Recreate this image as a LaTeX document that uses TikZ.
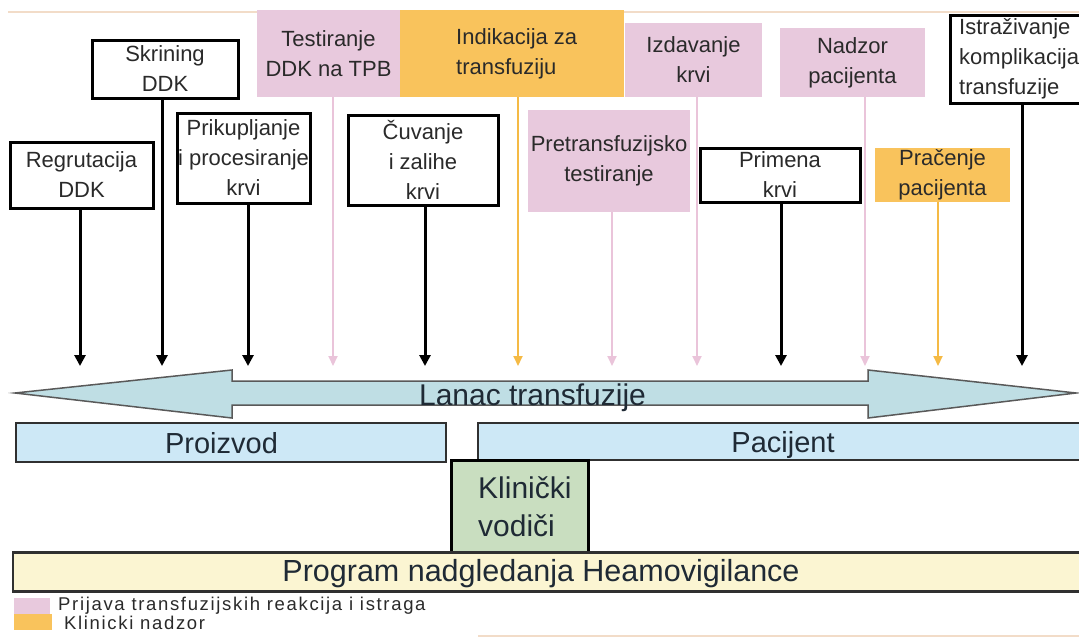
\documentclass[tikz,border=0pt]{standalone}
\usepackage{fontspec}
\setmainfont{Liberation Sans}
\usetikzlibrary{arrows.meta}
\definecolor{pinkc}{HTML}{E8C9DD}
\definecolor{pinkl}{HTML}{EAC4DA}
\definecolor{orc}{HTML}{F9C35C}
\definecolor{orl}{HTML}{F5BA45}
\definecolor{tealc}{HTML}{BFDEE4}
\definecolor{bluec}{HTML}{CDE8F6}
\definecolor{greenc}{HTML}{C9DEC0}
\definecolor{yelc}{HTML}{FBF5D2}
\definecolor{txt}{HTML}{2A2A2A}
\definecolor{bartxt}{HTML}{1F2A35}
\definecolor{edge}{HTML}{303030}
\definecolor{tanl}{HTML}{F2DCC8}
\tikzset{
  btext/.style={font=\fontsize{22}{30}\selectfont, text=txt, align=center, inner sep=0pt},
  blackbox/.style={btext, draw=black, line width=3pt, fill=white},
  pinkbox/.style={btext, fill=pinkc},
  orbox/.style={btext, fill=orc},
  bar/.style={draw=edge, line width=2.5pt, inner sep=0pt, text=bartxt},
  bigtext/.style={font=\fontsize{29}{31}\selectfont, text=bartxt, inner sep=0pt, anchor=base},
  legtext/.style={font=\fontsize{18.5}{19}\selectfont\addfontfeature{LetterSpace=9}, text=txt, anchor=base west, inner sep=0pt},
  blackarr/.style={draw=black, line width=3pt, -{Triangle[width=11pt,length=11pt]}},
  pinkarr/.style={draw=pinkl, line width=2pt, -{Triangle[width=9pt,length=10pt]}},
  orarr/.style={draw=orl, line width=2pt, -{Triangle[width=9pt,length=10pt]}},
}
\begin{document}
\begin{tikzpicture}[x=1pt,y=-1pt]
\useasboundingbox (0,0) rectangle (1079,637);
\clip (0,0) rectangle (1079,637);
\fill[white] (0,0) rectangle (1079,637);
\draw[tanl, line width=1.5pt] (8,12) -- (1079,12);
\draw[tanl, line width=1.5pt] (478,636) -- (1079,636);

% coloured boxes
\node[pinkbox, minimum width=143pt, minimum height=87pt] (test) at (328.5,53.5) {Testiranje\\DDK na TPB};
\node[orbox, minimum width=224pt, minimum height=87pt] (indik) at (512,53.5) {};
\node[btext, anchor=west, align=left] (indikt) at (456,54) {Indikacija za\\transfuziju};
\node[pinkbox, minimum width=162pt, minimum height=102pt] (pret) at (609,161) {Pretransfuzijsko\\testiranje};
\node[pinkbox, minimum width=137pt, minimum height=74pt] (izd) at (693.5,60) {Izdavanje\\krvi};
\node[pinkbox, minimum width=145pt, minimum height=69pt] (nadz) at (852.5,62.5) {Nadzor\\pacijenta};
\node[orbox, minimum width=135pt, minimum height=54pt] (prac) at (942.5,175) {Pra\v{c}enje\\pacijenta};

% black boxes
\node[blackbox, minimum width=143pt, minimum height=66pt] (regr) at (81.5,175) {Regrutacija\\DDK};
\node[blackbox, minimum width=146pt, minimum height=58pt] (skr) at (165,69) {Skrining\\DDK};
\node[blackbox, minimum width=133pt, minimum height=90pt] (prik) at (243.5,158) {Prikupljanje\\i procesiranje\\krvi};
\node[blackbox, minimum width=150pt, minimum height=90pt] (cuv) at (423,160) {\v{C}uvanje\\i zalihe\\krvi};
\node[blackbox, minimum width=160pt, minimum height=54pt] (prim) at (780,175) {Primena\\krvi};
\node[blackbox, minimum width=150pt, minimum height=88pt] (istr) at (1025,59) {};
\node[btext, anchor=west, align=left] (istrt) at (959,59) {Istra\v{z}ivanje\\komplikacija\\transfuzije};

% arrow tips
\foreach \n/\x in {1/80,2/162,3/248,4/333,5/425,6/518,7/612,8/697,9/781,10/865,11/938,12/1022}
  \coordinate (t\n) at (\x,366);

\draw[blackarr] (regr.south -| t1) -- (t1);
\draw[blackarr] (skr.south -| t2) -- (t2);
\draw[blackarr] (prik.south -| t3) -- (t3);
\draw[pinkarr] (test.south -| t4) -- (t4);
\draw[blackarr] (cuv.south -| t5) -- (t5);
\draw[orarr] (indik.south -| t6) -- (t6);
\draw[pinkarr] (pret.south -| t7) -- (t7);
\draw[pinkarr] (izd.south -| t8) -- (t8);
\draw[blackarr] (prim.south -| t9) -- (t9);
\draw[pinkarr] (nadz.south -| t10) -- (t10);
\draw[orarr] (prac.south -| t11) -- (t11);
\draw[blackarr] (istr.south -| t12) -- (t12);

% double arrow
\draw[fill=tealc, draw=edge!80, line width=1.5pt, line join=miter]
  (15,393) -- (232,370) -- (232,381) -- (868,381) -- (868,370) -- (1076,393)
  -- (868,418) -- (868,405) -- (232,405) -- (232,418) -- cycle;
\node[font=\fontsize{30}{32}\selectfont, text=bartxt, inner sep=0pt, anchor=base] (lanac) at (532.5,405) {Lanac transfuzije};

% bars
\node[bar, fill=bluec, minimum width=430pt, minimum height=39pt] (proiz) at (231,442.5) {};
\node[bigtext] (proizt) at (221.5,453) {Proizvod};
\node[bar, fill=bluec, minimum width=610pt, minimum height=37pt] (pac) at (783,441.5) {};
\node[bigtext] (pact) at (783,452) {Pacijent};
\node[bar, draw=black, line width=3pt, fill=greenc, minimum width=137pt, minimum height=92pt] (klin) at (519.5,506) {};
\node[font=\fontsize{30}{38}\selectfont, text=bartxt, align=left, anchor=west, inner sep=0pt] (klint) at (478,507) {Klini\v{c}ki\\vodi\v{c}i};
\node[bar, fill=yelc, minimum width=1080pt, minimum height=39pt] (prog) at (553,572) {};
\node[font=\fontsize{30.5}{32}\selectfont, text=bartxt, inner sep=0pt, anchor=base] (progt) at (541,581) {Program nadgledanja Heamovigilance};

% legend
\node[fill=pinkc, minimum width=36pt, minimum height=16pt, inner sep=0pt] (lg1) at (32,606) {};
\node[fill=orc, minimum width=38pt, minimum height=16pt, inner sep=0pt] (lg2) at (33,622) {};
\node[legtext] (lg1t) at (58,610) {Prijava transfuzijskih reakcija i istraga};
\node[legtext] (lg2t) at (64,629) {Klinicki nadzor};
\end{tikzpicture}
\end{document}
